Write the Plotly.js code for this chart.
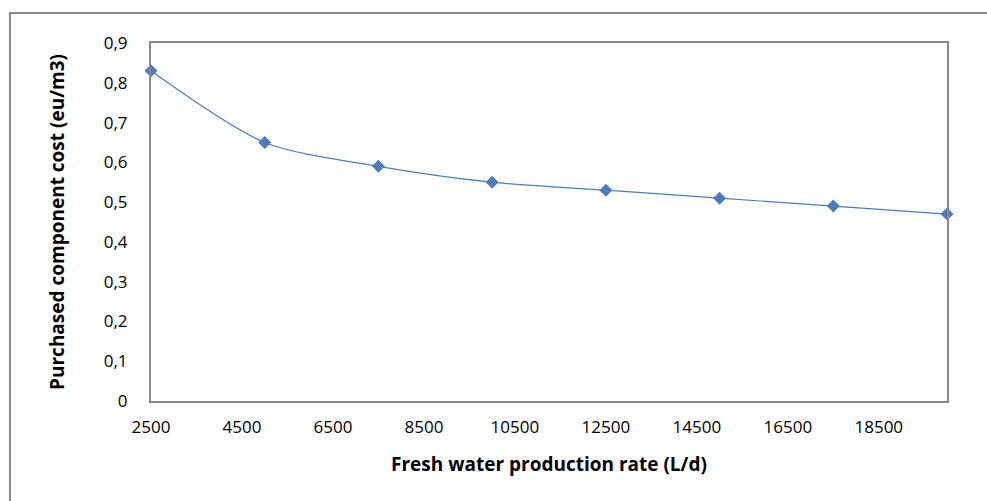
<!DOCTYPE html>
<html>
<head>
<meta charset="utf-8">
<script src="https://cdn.plot.ly/plotly-3.0.1.min.js"></script>
<style>
  html, body { margin: 0; padding: 0; background: #fff; }
  #chart { width: 987px; height: 501px; }
</style>
</head>
<body>
<div id="chart"></div>
<script>
// Fresh water production rate (L/d)
const productionRate = [2500, 5000, 7500, 10000, 12500, 15000, 17500, 20000];
// Purchased component cost (eu/m3)
const componentCost = [0.83, 0.65, 0.59, 0.55, 0.53, 0.51, 0.49, 0.47];

const xTickValues = [2500, 4500, 6500, 8500, 10500, 12500, 14500, 16500, 18500];
const yTickValues = [0, 0.1, 0.2, 0.3, 0.4, 0.5, 0.6, 0.7, 0.8, 0.9];

const fontFamily = 'Open Sans, Noto Sans, sans-serif';
const tickFont = { family: fontFamily, size: 17, color: '#000' };
const titleFont = { family: fontFamily, size: 19, color: '#000' };
const frameColor = '#898989';

const trace = {
  x: productionRate,
  y: componentCost,
  type: 'scatter',
  mode: 'lines+markers',
  line: { color: '#4a7ebb', width: 1.2, shape: 'spline', smoothing: 0.8 },
  marker: { symbol: 'diamond', size: 10, color: '#4a7ebb' },
  cliponaxis: false,
  hoverinfo: 'x+y'
};

const layout = {
  width: 987,
  height: 501,
  margin: { l: 151, r: 40, t: 43, b: 100 },
  paper_bgcolor: '#fff',
  plot_bgcolor: '#fff',
  showlegend: false,
  font: tickFont,
  separators: ',.',
  xaxis: {
    range: [2500, 20000],
    tickmode: 'array',
    tickvals: xTickValues,
    tickformat: 'd',
    showgrid: false,
    zeroline: false,
    showline: true,
    mirror: true,
    linecolor: frameColor,
    linewidth: 2,
    ticks: 'outside',
    ticklen: 10,
    tickcolor: 'rgba(0,0,0,0)',
    tickfont: tickFont,
    title: {
      text: '<b>Fresh water production rate (L/d)</b>',
      font: titleFont,
      standoff: 20
    }
  },
  yaxis: {
    range: [0, 0.9],
    tickmode: 'array',
    tickvals: yTickValues,
    showgrid: false,
    zeroline: false,
    showline: true,
    mirror: true,
    linecolor: frameColor,
    linewidth: 2,
    ticks: 'outside',
    ticklen: 18,
    tickcolor: 'rgba(0,0,0,0)',
    tickfont: tickFont,
    title: {
      text: '<b>Purchased component cost (eu/m3)</b>',
      font: titleFont,
      standoff: 34
    }
  },
  shapes: [
    {
      // outer chart frame (left and top edges)
      type: 'path',
      xref: 'paper', yref: 'paper',
      path: 'M -0.1772 -0.3 L -0.1772 1.0838 L 1.06 1.0838',
      line: { color: frameColor, width: 2 }
    }
  ]
};

Plotly.newPlot('chart', [trace], layout, { displayModeBar: false, staticPlot: true });
</script>
</body>
</html>
